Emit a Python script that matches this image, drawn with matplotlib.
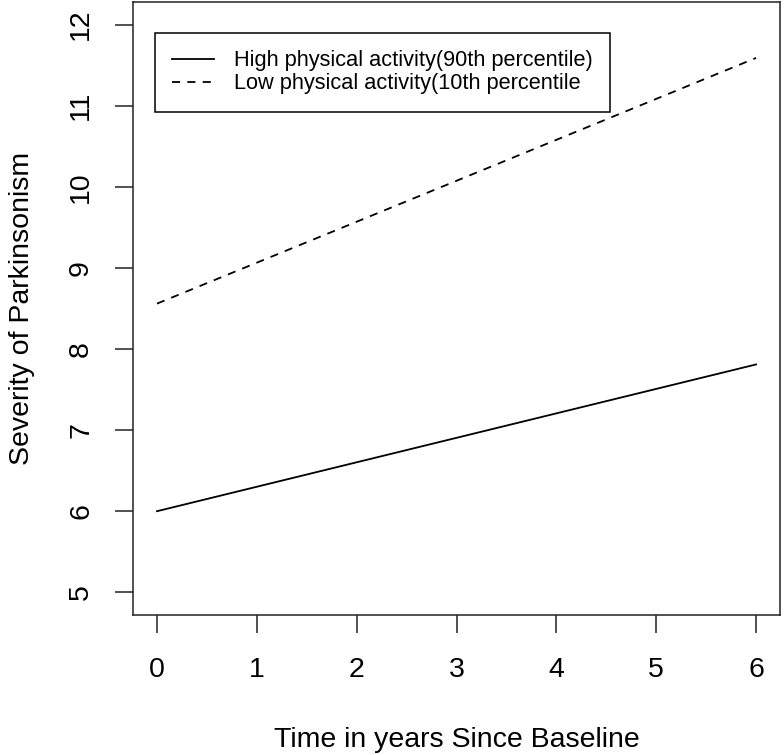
import numpy as np
import matplotlib
matplotlib.use("Agg")
import matplotlib.pyplot as plt

# lignes predites (debut et fin de suivi)
years = [0, 6]
high_pa = [6.0, 7.81]
low_pa = [8.56, 11.59]
labels = ["High physical activity(90th percentile)",
          "Low physical activity(10th percentile"]
xticks = [0, 1, 2, 3, 4, 5, 6]
yticks = [5, 6, 7, 8, 9, 10, 11, 12]

plt.rcParams['font.family'] = ['Liberation Sans', 'DejaVu Sans']

fig = plt.figure(figsize=(7.84, 7.55), dpi=100)
ax = fig.add_axes([133 / 784, 1 - 615 / 755, 647 / 784, 613 / 755])

ax.plot(years, high_pa, color='black', lw=1.3, label=labels[0])
ax.plot(years, low_pa, color='black', lw=1.3, dashes=(4.5, 4), label=labels[1])

# limites facon R (4% de marge)
ax.set_xlim(-0.24, 6.24)
ax.set_ylim(4.72, 12.28)
ax.set_xticks(xticks)
ax.set_yticks(yticks)
ax.set_yticklabels([str(v) for v in yticks], rotation=90, va='center')
ax.tick_params(length=13, width=1.1, labelsize=20.5, color='#222222')
ax.tick_params(axis='x', pad=17)
ax.tick_params(axis='y', pad=15)
for s in ax.spines.values():
    s.set_linewidth(1.1)
    s.set_color('#222222')

ax.set_xlabel("Time in years Since Baseline", fontsize=20.5, labelpad=32)
ax.set_ylabel("Severity of Parkinsonism", fontsize=20.5, labelpad=24)

leg = ax.legend(loc='upper left', bbox_to_anchor=(22 / 647, 582 / 613),
                borderaxespad=0, fontsize=15.7, fancybox=False, framealpha=1,
                edgecolor='black', handlelength=1.9, handletextpad=0.92,
                labelspacing=0.08, borderpad=0.8)
leg.get_frame().set_linewidth(1.1)

fig.savefig("out.png", dpi=100)
